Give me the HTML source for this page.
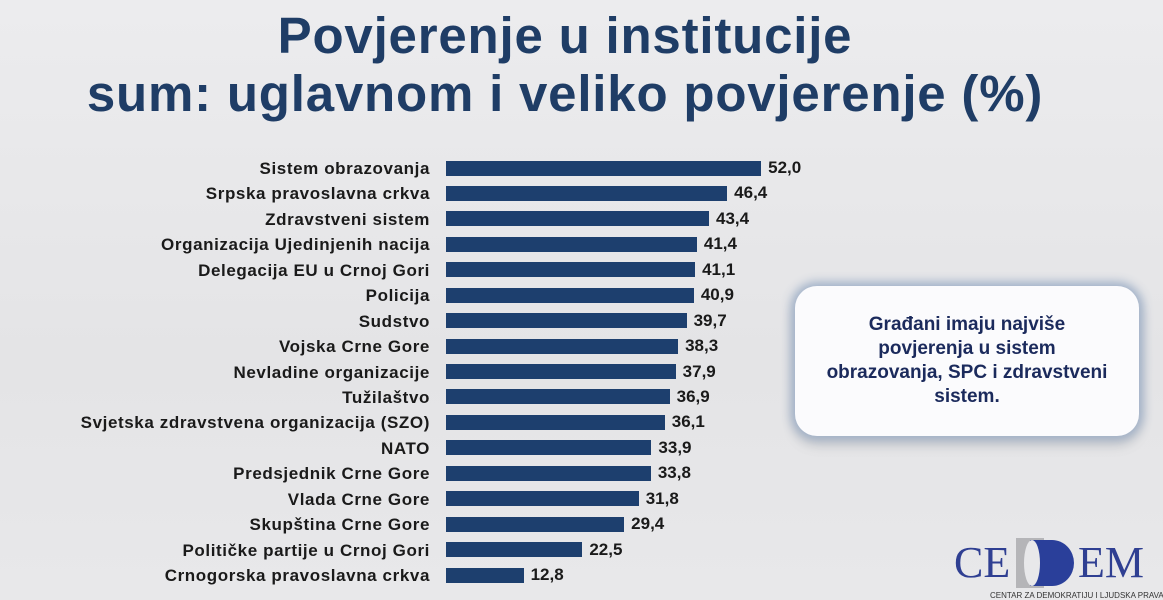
<!DOCTYPE html>
<html><head><meta charset="utf-8"><style>
body{margin:0;width:1163px;height:600px;overflow:hidden;background:linear-gradient(180deg,#ececee 0%,#e4e4e6 60%,#e8e8ea 100%);font-family:"Liberation Sans",sans-serif;position:relative}
.t{position:absolute;left:0;width:1130px;text-align:center;color:#1f3d66;font-weight:bold;font-size:51px;line-height:1;letter-spacing:0.8px}
.l{position:absolute;right:733px;font-size:17px;font-weight:bold;color:#1a1a1a;white-space:nowrap;line-height:18px;letter-spacing:0.6px}
.b{position:absolute;left:446px;height:15px;background:#1d3f6e}
.v{position:absolute;font-size:17px;font-weight:bold;color:#1a1a1a;line-height:18px}
.box{position:absolute;left:795px;top:286px;width:344px;height:150px;border-radius:22px;background:#fbfbfd;box-shadow:0 0 10px 4px #9fb0c8,0 8px 14px rgba(0,0,0,.15);display:flex;align-items:center;justify-content:center;text-align:center;color:#1b2a5c;font-weight:bold;font-size:19px;line-height:24px}
</style></head><body>
<div class="t" style="top:10px">Povjerenje u institucije</div>
<div class="t" style="top:68px">sum: uglavnom i veliko povjerenje (%)</div>
<div id="c"></div>
<div class="box"><div>Građani imaju najviše<br>povjerenja u sistem<br>obrazovanja, SPC i zdravstveni<br>sistem.</div></div>
<div style="position:absolute;left:954px;top:541px;font-family:'Liberation Serif',serif;font-size:44px;color:#2f3f92;line-height:44px">CE</div>
<div style="position:absolute;left:1016px;top:538px;width:28px;height:50px;background:#b5b5b8"></div>
<div style="position:absolute;left:1030px;top:540px;width:44px;height:46px;border-radius:0 50% 50% 0;background:#2a3f9a"></div>
<div style="position:absolute;left:1024px;top:540px;width:16px;height:46px;border-radius:50%;background:#e8e8ea"></div>
<div style="position:absolute;left:1078px;top:541px;font-family:'Liberation Serif',serif;font-size:44px;color:#2f3f92;line-height:44px">EM</div>
<div style="position:absolute;left:990px;top:591px;font-size:8px;color:#333;white-space:nowrap">CENTAR ZA DEMOKRATIJU I LJUDSKA PRAVA</div>
<script>
var d=[["Sistem obrazovanja",52.0],["Srpska pravoslavna crkva",46.4],["Zdravstveni sistem",43.4],["Organizacija Ujedinjenih nacija",41.4],["Delegacija EU u Crnoj Gori",41.1],["Policija",40.9],["Sudstvo",39.7],["Vojska Crne Gore",38.3],["Nevladine organizacije",37.9],["Tužilaštvo",36.9],["Svjetska zdravstvena organizacija (SZO)",36.1],["NATO",33.9],["Predsjednik Crne Gore",33.8],["Vlada Crne Gore",31.8],["Skupština Crne Gore",29.4],["Političke partije u Crnoj Gori",22.5],["Crnogorska pravoslavna crkva",12.8]];
var h="";d.forEach(function(r,i){var y=168+i*25.44;var w=r[1]*6.06;
h+='<div class="l" style="top:'+(y-8)+'px">'+r[0]+'</div><div class="b" style="top:'+(y-7.5)+'px;width:'+w+'px"></div><div class="v" style="top:'+(y-9)+'px;left:'+(446+w+7)+'px">'+r[1].toFixed(1).replace('.',',')+'</div>';});
document.getElementById('c').innerHTML=h;
</script>
</body></html>
